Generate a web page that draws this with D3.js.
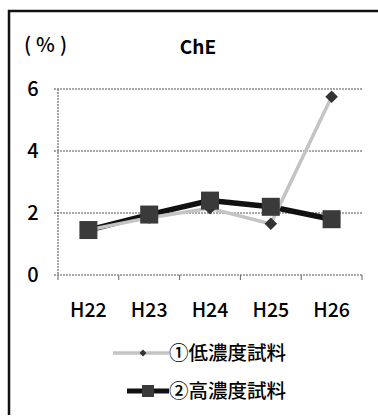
<!DOCTYPE html>
<html>
<head>
<meta charset="utf-8">
<script src="https://cdn.jsdelivr.net/npm/d3@7"></script>
<style>
  body { margin: 0; background: #fff; }
  svg { display: block; font-family: "Noto Sans CJK JP", "Noto Sans", sans-serif; }
</style>
</head>
<body>
<div id="chart"></div>
<script>
const years = ["H22", "H23", "H24", "H25", "H26"];
const low_values = [1.45, 1.85, 2.15, 1.65, 5.75];
const high_values = [1.45, 1.95, 2.4, 2.2, 1.8];
const y_ticks = [0, 2, 4, 6];
const series_names = ["①低濃度試料", "②高濃度試料"];

const W = 378, H = 420;
const margin = {left: 58, right: 16, top: 89, bottom: 145};

const svg = d3.select("#chart").append("svg")
  .attr("width", W)
  .attr("height", H);

// frame (only top and left visible in the scan)
svg.append("path")
  .attr("d", `M9,415 V11 H378`)
  .attr("fill", "none")
  .attr("stroke", "#111")
  .attr("stroke-width", 2.5);

const x = d3.scaleBand()
  .domain(years)
  .range([margin.left, W - margin.right]);

const y = d3.scaleLinear()
  .domain([0, 6])
  .range([H - margin.bottom, margin.top]);

// gridlines
svg.append("g")
  .selectAll("line")
  .data(y_ticks)
  .join("line")
  .attr("x1", margin.left - 4)
  .attr("x2", W - margin.right)
  .attr("y1", d => y(d))
  .attr("y2", d => y(d))
  .attr("stroke", "#555")
  .attr("stroke-width", 1.2)
  .attr("stroke-dasharray", "2,1");

// y axis
svg.append("line")
  .attr("x1", margin.left).attr("x2", margin.left)
  .attr("y1", y(6)).attr("y2", y(0))
  .attr("stroke", "#666")
  .attr("stroke-width", 1.2)
  .attr("stroke-dasharray", "2,1");

svg.append("g")
  .selectAll("text")
  .data(y_ticks)
  .join("text")
  .attr("x", 33)
  .attr("y", d => y(d) + 7)
  .attr("text-anchor", "middle")
  .attr("font-size", 20)
  .attr("font-weight", 500)
  .attr("fill", "#000")
  .text(d => d);

// x ticks
const tick_pos = years.map(d => x(d)).concat([x.range()[1]]);
svg.append("g")
  .selectAll("line")
  .data(tick_pos)
  .join("line")
  .attr("x1", d => d).attr("x2", d => d)
  .attr("y1", y(0)).attr("y2", y(0) + 5)
  .attr("stroke", "#666")
  .attr("stroke-width", 1);

svg.append("g")
  .selectAll("text")
  .data(years)
  .join("text")
  .attr("x", d => x(d) + x.bandwidth() / 2)
  .attr("y", 317)
  .attr("text-anchor", "middle")
  .attr("font-size", 19.5)
  .attr("font-weight", 500)
  .attr("fill", "#000")
  .text(d => d);

// titles
svg.append("text")
  .attr("x", 24).attr("y", 52)
  .attr("font-size", 20)
  .attr("font-weight", 500)
  .attr("letter-spacing", 5)
  .attr("fill", "#000")
  .text("(%)");

svg.append("text")
  .attr("x", 198).attr("y", 54)
  .attr("text-anchor", "middle")
  .attr("font-size", 19)
  .attr("font-weight", "bold")
  .attr("fill", "#000")
  .text("ChE");

const cx = d => x(d) + x.bandwidth() / 2;
const line = d3.line()
  .x((d, i) => cx(years[i]))
  .y(d => y(d));

// high concentration series (drawn first, low overlays partly)
svg.append("path")
  .datum(high_values)
  .attr("d", line)
  .attr("fill", "none")
  .attr("stroke", "#111")
  .attr("stroke-width", 5.5);

svg.append("path")
  .datum(low_values)
  .attr("d", line)
  .attr("fill", "none")
  .attr("stroke", "#c4c4c4")
  .attr("stroke-width", 3.5);

svg.append("g")
  .selectAll("path")
  .data(low_values)
  .join("path")
  .attr("d", d3.symbol(d3.symbolDiamond2, 100))
  .attr("transform", (d, i) => `translate(${cx(years[i])},${y(d)})`)
  .attr("fill", "#333");

svg.append("g")
  .selectAll("rect")
  .data(high_values)
  .join("rect")
  .attr("x", (d, i) => cx(years[i]) - 9)
  .attr("y", d => y(d) - 9)
  .attr("width", 18)
  .attr("height", 18)
  .attr("fill", "#3a3a3a");

// legend
const legend = svg.append("g");
const leg_y = [353, 391];
const leg_x0 = [113, 127];
legend.selectAll("line")
  .data(series_names)
  .join("line")
  .attr("x1", (d, i) => leg_x0[i]).attr("x2", 169)
  .attr("y1", (d, i) => leg_y[i])
  .attr("y2", (d, i) => leg_y[i])
  .attr("stroke", (d, i) => i == 0 ? "#c4c4c4" : "#111")
  .attr("stroke-width", (d, i) => i == 0 ? 3.5 : 5);

legend.append("path")
  .attr("d", d3.symbol(d3.symbolDiamond2, 30))
  .attr("transform", `translate(143,${leg_y[0]})`)
  .attr("fill", "#333");

legend.append("rect")
  .attr("x", 142).attr("y", leg_y[1] - 6)
  .attr("width", 12).attr("height", 12)
  .attr("fill", "#3a3a3a");

legend.selectAll("text")
  .data(series_names)
  .join("text")
  .attr("x", 169)
  .attr("y", (d, i) => leg_y[i] + 7)
  .attr("font-size", 19.5)
  .attr("font-weight", 500)
  .attr("fill", "#000")
  .text(d => d);
</script>
</body>
</html>
